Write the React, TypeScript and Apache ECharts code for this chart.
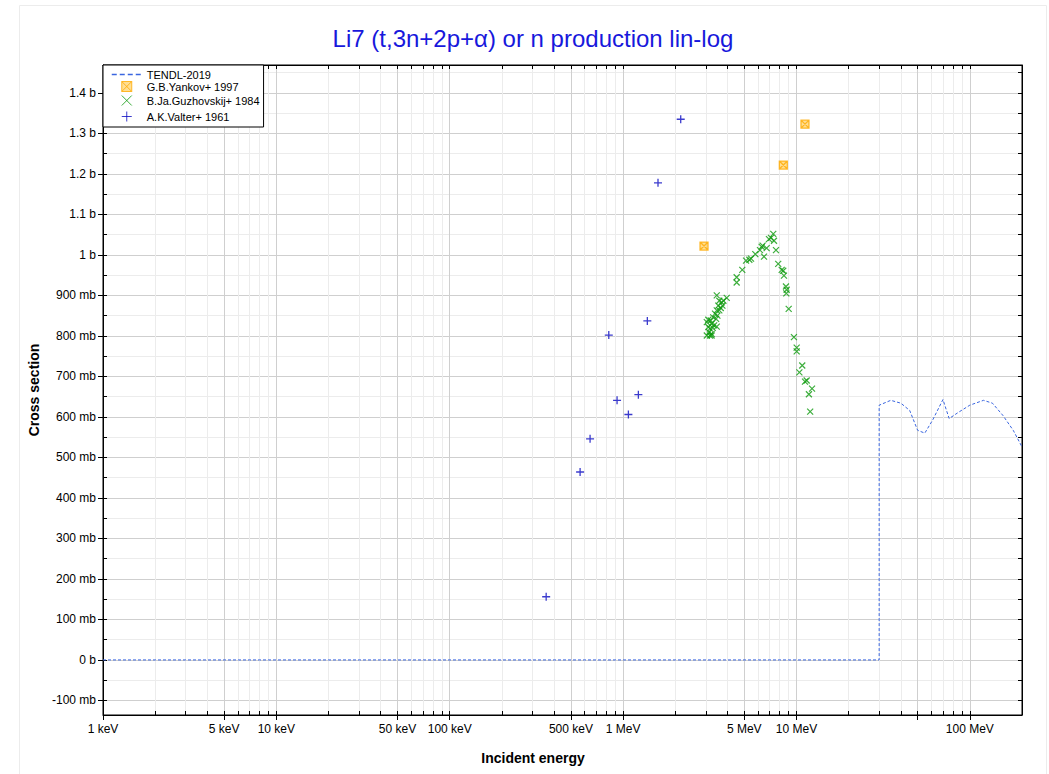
import React, { useEffect, useRef } from "react";
import * as echarts from "echarts";

// ---------- data ----------
const tendlEnergy = [0.001, 30, 30, 35, 40, 45, 50, 55, 61, 70, 76, 85, 100, 120, 135, 155, 178, 200];
const tendlXS = [0, 0, 0.629, 0.641, 0.634, 0.616, 0.567, 0.56, 0.592, 0.643, 0.596, 0.61, 0.629, 0.641, 0.634, 0.604, 0.567, 0.526];

const yankovEnergy = [2.93, 8.4, 11.2];
const yankovXS = [1.022, 1.222, 1.323];

const guzhEnergy = [
  3.47, 3.96, 3.59, 3.71, 3.79, 3.54, 3.66, 3.74, 3.47, 3.59, 3.39, 3.5, 3.31, 3.44, 3.1, 3.2, 3.04, 3.24, 3.35, 3.47,
  3.1, 3.17, 3.29, 3.14, 3.24, 3.04, 3.17, 3.24,
  4.52, 4.52, 4.87, 5.12, 5.35, 5.47, 5.79, 6.16, 6.38, 6.3, 6.5, 6.73, 6.94, 7.13, 7.35, 7.42, 7.62,
  7.85, 8.22, 8.39, 8.47, 8.7, 8.78, 8.74, 9.02, 9.67, 10.03, 10.03, 10.8, 10.4, 11.45, 11.2, 12.3, 11.8, 12.0,
];
const guzhXS = [
  0.9, 0.894, 0.887, 0.883, 0.887, 0.875, 0.869, 0.875, 0.863, 0.863, 0.855, 0.85, 0.846, 0.842, 0.84, 0.838, 0.834, 0.83, 0.826, 0.823,
  0.822, 0.818, 0.82, 0.809, 0.805, 0.801, 0.801, 0.801,
  0.945, 0.932, 0.963, 0.986, 0.988, 0.991, 1.002, 1.012, 1.023, 1.02, 0.996, 1.017, 1.039, 1.042, 1.052, 1.035, 1.012,
  0.978, 0.963, 0.961, 0.949, 0.922, 0.914, 0.905, 0.867, 0.797, 0.771, 0.762, 0.727, 0.71, 0.69, 0.687, 0.67, 0.656, 0.613,
];

const valterEnergy = [0.36, 0.565, 0.645, 0.827, 0.923, 1.073, 1.225, 1.38, 1.59, 2.15];
const valterXS = [0.156, 0.464, 0.546, 0.802, 0.641, 0.606, 0.655, 0.837, 1.178, 1.335];

// ---------- ticks ----------
const xMajorTicks = [0.001, 0.005, 0.01, 0.05, 0.1, 0.5, 1, 5, 10, 50, 100];
const xLabelTicks = [0.001, 0.005, 0.01, 0.05, 0.1, 0.5, 1, 5, 10, 100];
const xDecades = [0.001, 0.01, 0.1, 1, 10, 100];
const xMinorMultipliers = [2, 3, 4, 6, 7, 8, 9];
const yMajorTicks = [-0.1, 0, 0.1, 0.2, 0.3, 0.4, 0.5, 0.6, 0.7, 0.8, 0.9, 1.0, 1.1, 1.2, 1.3, 1.4];
const yMinorTicks = [-0.05, 0.05, 0.15, 0.25, 0.35, 0.45, 0.55, 0.65, 0.75, 0.85, 0.95, 1.05, 1.15, 1.25, 1.35, 1.45];

const X_MIN = 0.001;
const X_MAX = 200;
const Y_MIN = -0.136;
const Y_MAX = 1.469;

const FONT = '"Liberation Sans", Arial, sans-serif';

const zip = (a: number[], b: number[]) => a.map((v, i) => [v, b[i]]);

const xFmt = (v: number) => {
  if (v >= 1) return `${Math.round(v)} MeV`;
  return `${Math.round(v * 1000)} keV`;
};
const yFmt = (v: number) => {
  const r = Math.round(v * 1000);
  if (r === 0) return "0 b";
  if (Math.abs(r) >= 1000) return `${+(r / 1000).toFixed(1)} b`;
  return `${r} mb`;
};

export default function App() {
  const ref = useRef<HTMLDivElement>(null);
  useEffect(() => {
    document.body.style.margin = "0";
    if (!ref.current) return;
    const chart = echarts.init(ref.current, undefined, { renderer: "svg" });

    const xMinor: number[] = [];
    xDecades.forEach((d) => xMinorMultipliers.forEach((m) => {
      const v = +(d * m).toPrecision(6);
      if (v <= X_MAX) xMinor.push(v);
    }));
    const xAll = [...xMajorTicks, ...xMinor, 200].sort((a, b) => a - b);
    const yAll = [...yMajorTicks, ...yMinorTicks].sort((a, b) => a - b);

    const black = { color: "#000", width: 1 };
    const xBase = { type: "log" as const, logBase: 10, min: X_MIN, max: X_MAX, gridIndex: 0 };
    const yBase = { type: "value" as const, min: Y_MIN, max: Y_MAX, gridIndex: 0 };

    const option: any = {
      animation: false,
      backgroundColor: "#fff",
      textStyle: { fontFamily: FONT },
      graphic: [
        {
          type: "rect",
          shape: { x: 19.5, y: 5.5, width: 1027, height: 820 },
          style: { fill: "none", stroke: "#ececec", lineWidth: 1 },
          silent: true,
          z: -10,
        },
        {
          type: "text",
          x: 533,
          y: 38,
          style: {
            text: "Li7 (t,3n+2p+α) or n production lin-log",
            font: `24px ${FONT}`,
            fill: "#1818dc",
            align: "center",
            verticalAlign: "middle",
            textAlign: "center",
            textVerticalAlign: "middle",
          },
        },
        {
          type: "text",
          x: 533,
          y: 758,
          style: {
            text: "Incident energy",
            font: `bold 14px ${FONT}`,
            fill: "#000",
            align: "center",
            verticalAlign: "middle",
            textAlign: "center",
            textVerticalAlign: "middle",
          },
        },
      ],
      grid: {
        left: 103,
        top: 65,
        width: 919,
        height: 650,
        show: true,
        borderColor: "#000",
        borderWidth: 1,
        backgroundColor: "#fff",
      },
      legend: {
        orient: "vertical",
        left: 103,
        top: 65,
        padding: [4, 4, 3, 8],
        itemGap: 1,
        itemWidth: 30,
        itemHeight: 10,
        backgroundColor: "#fff",
        borderColor: "#000",
        borderWidth: 1,
        textStyle: { fontSize: 11, color: "#000", fontFamily: FONT },
        itemStyle: { borderWidth: 1 },
        selectedMode: false,
        z: 20,
        data: [
          {
            name: "TENDL-2019",
            itemStyle: { color: "rgba(0,0,0,0)", borderColor: "rgba(0,0,0,0)", borderWidth: 0, opacity: 0 },
            lineStyle: { type: [5, 3], width: 1.5 },
          },
          { name: "G.B.Yankov+ 1997" },
          { name: "B.Ja.Guzhovskij+ 1984" },
          { name: "A.K.Valter+ 1961" },
        ],
      },
      xAxis: [
        {
          ...xBase,
          position: "bottom",
          axisLine: { show: false, onZero: false },
          axisLabel: { show: false },
          axisTick: { show: false, customValues: xMinor },
          splitLine: { show: true, lineStyle: { color: "#ececec", width: 1 } },
        },
        {
          ...xBase,
          position: "bottom",
          axisLine: { show: true, onZero: false, lineStyle: black },
          axisTick: { show: true, inside: false, length: 5, customValues: xMajorTicks, lineStyle: black },
          axisLabel: {
            show: true,
            customValues: xLabelTicks,
            formatter: xFmt,
            color: "#000",
            fontSize: 12,
            fontFamily: FONT,
            margin: 8,
          },
          splitLine: { show: true, lineStyle: { color: "#cfcfcf", width: 1 } },
        },
        {
          ...xBase,
          position: "bottom",
          axisLine: { show: false, onZero: false },
          axisLabel: { show: false },
          axisTick: { show: true, inside: true, length: 4, customValues: xAll, lineStyle: black },
          splitLine: { show: false },
        },
        {
          ...xBase,
          position: "top",
          axisLine: { show: true, onZero: false, lineStyle: black },
          axisLabel: { show: false },
          axisTick: { show: true, inside: true, length: 4, customValues: xAll, lineStyle: black },
          splitLine: { show: false },
        },
      ],
      yAxis: [
        {
          ...yBase,
          position: "left",
          axisLine: { show: false, onZero: false },
          axisLabel: { show: false },
          axisTick: { show: false, customValues: yMinorTicks },
          splitLine: { show: true, lineStyle: { color: "#ececec", width: 1 } },
        },
        {
          ...yBase,
          position: "left",
          name: "Cross section",
          nameLocation: "middle",
          nameGap: 57,
          nameTextStyle: { fontWeight: "bold", fontSize: 14, color: "#000", fontFamily: FONT },
          axisLine: { show: true, onZero: false, lineStyle: black },
          axisTick: { show: true, inside: false, length: 5, customValues: yMajorTicks, lineStyle: black },
          axisLabel: {
            show: true,
            customValues: yMajorTicks,
            formatter: yFmt,
            color: "#000",
            fontSize: 12,
            fontFamily: FONT,
            margin: 7,
          },
          splitLine: { show: true, lineStyle: { color: "#cfcfcf", width: 1 } },
        },
        {
          ...yBase,
          position: "left",
          axisLine: { show: false, onZero: false },
          axisLabel: { show: false },
          axisTick: { show: true, inside: true, length: 4, customValues: yAll, lineStyle: black },
          splitLine: { show: false },
        },
        {
          ...yBase,
          position: "right",
          axisLine: { show: true, onZero: false, lineStyle: black },
          axisLabel: { show: false },
          axisTick: { show: true, inside: true, length: 4, customValues: yAll, lineStyle: black },
          splitLine: { show: false },
        },
      ],
      series: [
        {
          name: "TENDL-2019",
          type: "line",
          xAxisIndex: 1,
          yAxisIndex: 1,
          data: zip(tendlEnergy, tendlXS),
          symbol: "none",
          lineStyle: { color: "#3a66e0", width: 1, type: [3, 2] },
          itemStyle: { color: "#3a66e0" },
          silent: true,
          z: 3,
        },
        {
          name: "G.B.Yankov+ 1997",
          type: "scatter",
          xAxisIndex: 1,
          yAxisIndex: 1,
          data: zip(yankovEnergy, yankovXS),
          symbol: "path://M0,0L8,0L8,8L0,8ZM0,0L8,8M8,0L0,8",
          symbolSize: 8,
          itemStyle: { color: "rgba(255,185,30,0.6)", borderColor: "#ffaa00", borderWidth: 1.3 },
          silent: true,
          z: 4,
        },
        {
          name: "B.Ja.Guzhovskij+ 1984",
          type: "scatter",
          xAxisIndex: 1,
          yAxisIndex: 1,
          data: zip(guzhEnergy, guzhXS),
          symbol: "path://M0,0L6,6M6,0L0,6",
          symbolSize: 6,
          itemStyle: { color: "none", borderColor: "#0c9a0c", borderWidth: 1.2 },
          silent: true,
          z: 5,
        },
        {
          name: "A.K.Valter+ 1961",
          type: "scatter",
          xAxisIndex: 1,
          yAxisIndex: 1,
          data: zip(valterEnergy, valterXS),
          symbol: "path://M4,0L4,8M0,4L8,4",
          symbolSize: 8,
          itemStyle: { color: "none", borderColor: "#0a0ac0", borderWidth: 1.3 },
          silent: true,
          z: 6,
        },
      ],
    };
    chart.setOption(option);
    return () => chart.dispose();
  }, []);
  return <div ref={ref} style={{ width: 1049, height: 774 }} />;
}
